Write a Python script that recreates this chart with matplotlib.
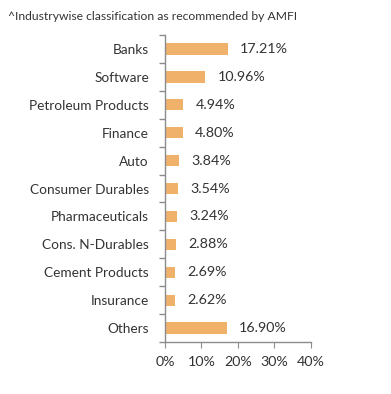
import matplotlib
matplotlib.use("Agg")
import matplotlib.pyplot as plt
import numpy as np

categories = ["Banks", "Software", "Petroleum Products", "Finance", "Auto",
              "Consumer Durables", "Pharmaceuticals", "Cons. N-Durables",
              "Cement Products", "Insurance", "Others"]
values = [17.21, 10.96, 4.94, 4.80, 3.84, 3.54, 3.24, 2.88, 2.69, 2.62, 16.90]
xticks = [0, 10, 20, 30, 40]
title = "^Industrywise classification as recommended by AMFI"

plt.rcParams['font.family'] = ['Lato', 'DejaVu Sans']
text_color = "#333333"
axis_color = "#8c8c8c"

fig = plt.figure(figsize=(3.91, 3.94), dpi=100)
ax = fig.add_axes([0.422, 0.132, 0.373, 0.779])
y = np.arange(len(categories))
ax.barh(y, values, height=0.4, color="#F0B26B")
for yi, v in zip(y, values):
    ax.text(v + 3.4, yi, f"{v:.2f}%", va="center", ha="left", fontsize=10.3,
            color=text_color)
ax.set_xlim(0, 40)
ax.set_ylim(len(categories) - 0.5, -0.5)
ax.set_yticks(y)
ax.set_yticklabels(categories)
ax.set_yticks(np.arange(len(categories) + 1) - 0.5, minor=True)
ax.tick_params(axis='y', which='major', length=0, pad=11.5, labelsize=9.8, labelcolor=text_color)
ax.tick_params(axis='y', which='minor', length=4, color=axis_color, width=1)
ax.set_xticks(xticks)
ax.set_xticklabels([f"{t}%" for t in xticks])
ax.tick_params(axis='x', length=4, color=axis_color, labelsize=10.3, labelcolor=text_color, pad=6)
for s in ["top", "right"]:
    ax.spines[s].set_visible(False)
for s in ["left", "bottom"]:
    ax.spines[s].set_color(axis_color)
    ax.spines[s].set_linewidth(1)
fig.text(8 / 391, 1 - 16 / 394, title, fontsize=8.7, color=text_color, va="center", ha="left")
fig.savefig("out.png", dpi=100)
